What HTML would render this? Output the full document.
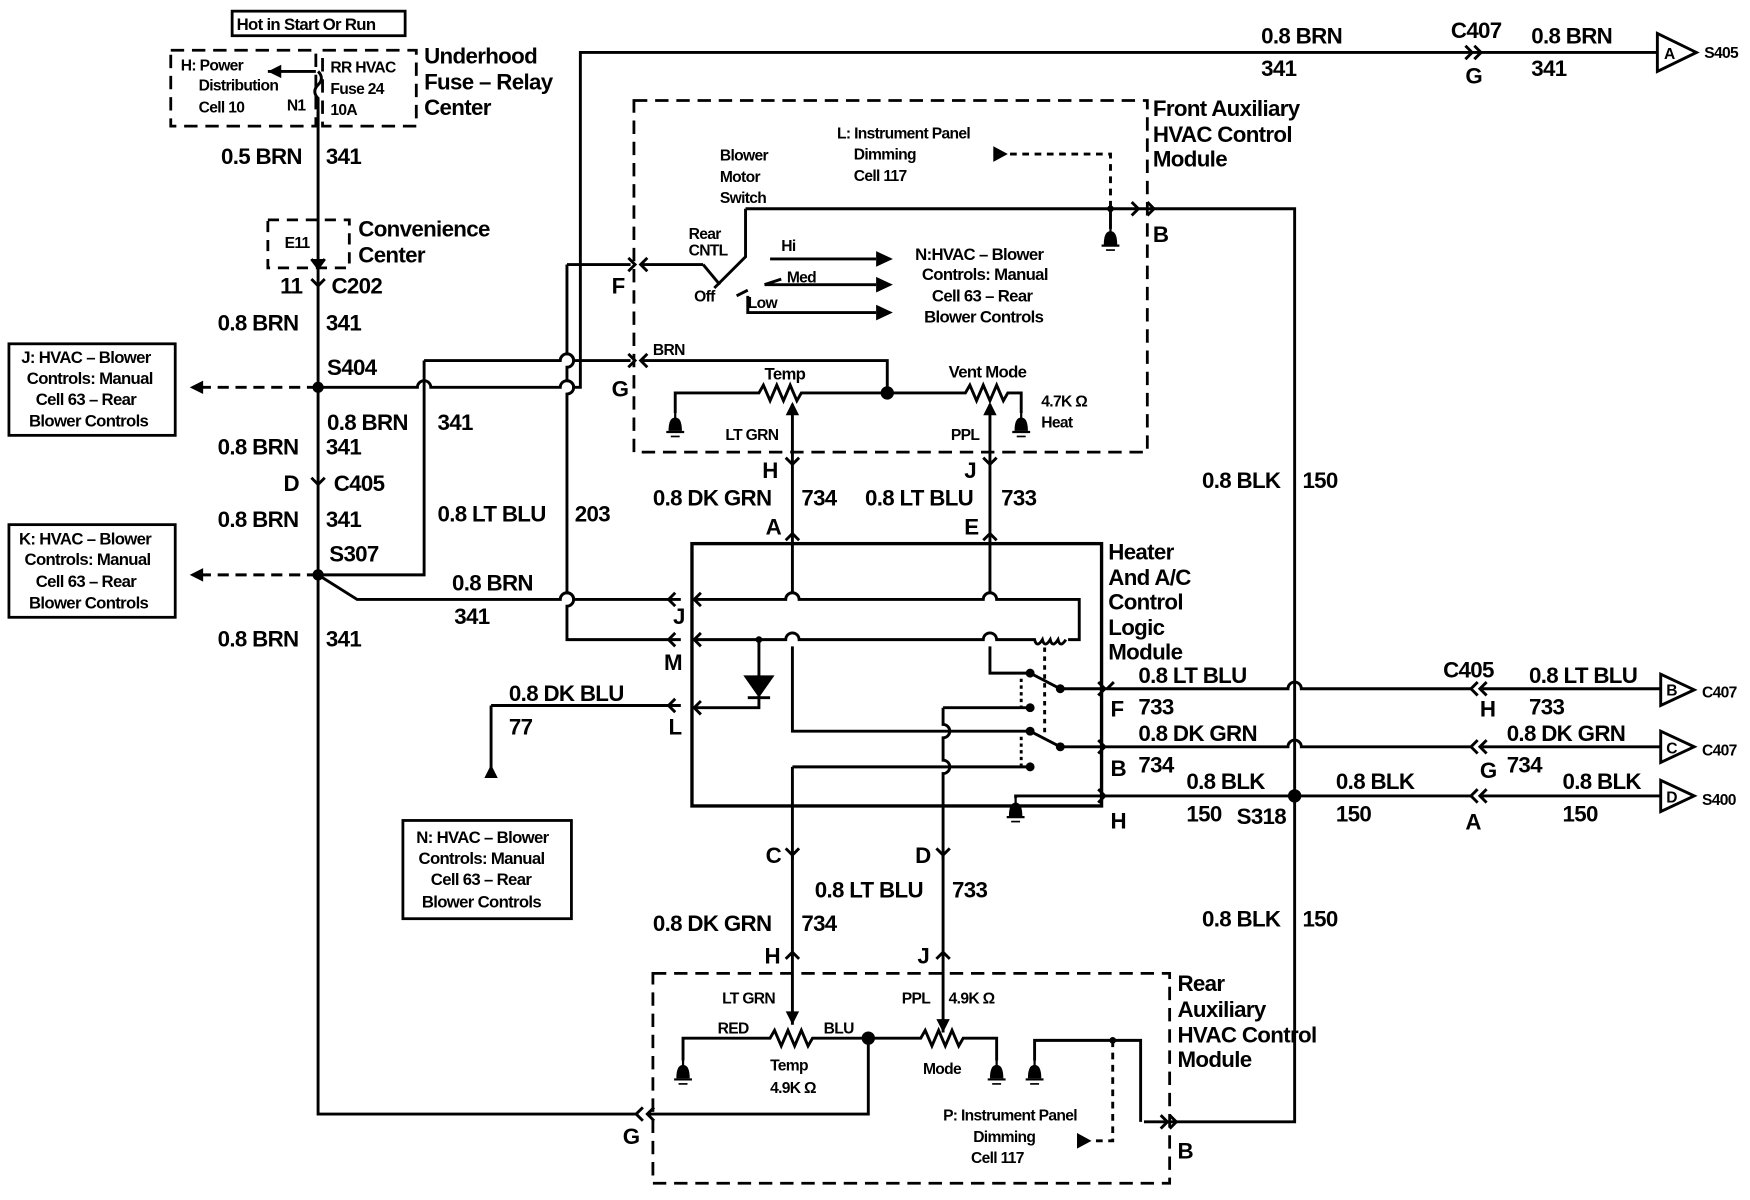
<!DOCTYPE html>
<html><head><meta charset="utf-8"><style>
html,body{margin:0;padding:0;background:#fff;}
svg{display:block}
text{font-family:"Liberation Sans",Arial,sans-serif;font-weight:bold;fill:#000;letter-spacing:-0.6px}
.b{font-size:20px}.m{font-size:15px}.s{font-size:14px}
</style></head><body>
<svg width="1750" height="1200" viewBox="0 0 1568 1075" preserveAspectRatio="none" xmlns="http://www.w3.org/2000/svg">
<defs>
<g id="gnd"><line x1="0" y1="-14" x2="0" y2="-6" stroke="#000" stroke-width="2"/><path d="M-6,4 Q-6,-8 0,-8 Q6,-8 6,4 Z" fill="#000"/><line x1="-8" y1="5" x2="8" y2="5" stroke="#000" stroke-width="2"/><line x1="-4" y1="9" x2="4" y2="9" stroke="#000" stroke-width="1.5"/></g>
</defs>
<g fill="none" stroke="#000" stroke-width="2.6">
<rect x="208" y="10" width="155" height="22" stroke-width="2.5"/>
<rect x="153" y="45" width="130" height="68" stroke-dasharray="12,7" stroke-width="2.5"/>
<rect x="289" y="45" width="84" height="68" stroke-dasharray="12,7" stroke-width="2.5"/>
<path d="M283,64 L240,64"/><path d="M285,64 q6,6 0,12 q-6,6 0,12 l0,25"/>
<rect x="240" y="197" width="73" height="43" stroke-dasharray="10,7" stroke-width="2.5"/>
<path d="M285,100 L285,998 L570,998"/>
<path d="M279,232 L285,240 L291,232"/>
<path d="M279,250 L285,256 L291,250"/>
<path d="M279,428 L285,434 L291,428"/>
<path d="M285,347 L180,347" stroke-dasharray="10,6"/>
<path d="M285,515 L180,515" stroke-dasharray="10,6"/>
<rect x="8" y="308" width="149" height="82" stroke-width="2.5"/>
<rect x="8" y="470" width="149" height="83" stroke-width="2.5"/>
<path d="M285,347 L374,347 a6,6 0 0 1 12,0 L502,347 a6,6 0 0 1 12,0 L520,347 L520,47 L1485,47"/>
<path d="M1313,41 L1319,47 L1313,53 M1321,41 L1327,47 L1321,53"/>
<path d="M380,323 L380,515 L285,515"/>
<path d="M380,323 L502,323 a6,6 0 0 1 12,0 L520,323 M520,323 L565,323"/>
<path d="M285,515 L320,537 L502,537 a6,6 0 0 1 12,0 L610,537"/>
<path d="M508,237 L565,237"/>
<path d="M508,237 L508,317 a6,6 0 0 1 0,12 L508,341 a6,6 0 0 1 0,12 L508,531 a6,6 0 0 1 0,12 L508,573 L610,573"/>
<path d="M563,231 L569,237 L563,243 M563,317 L569,323 L563,329"/>
<rect x="568" y="90" width="460" height="315" stroke-dasharray="12,7" stroke-width="2.5"/>
<path d="M575,237 L630,237"/><path d="M580,231 L574,237 L580,243 M580,317 L574,323 L580,329"/>
<path d="M668,187 L668,230 L640,258 M630,237 L645,255"/>
<path d="M668,187 L1020,187 L1160,187 L1160,1005 L1025,1005"/>
<path d="M1014,181 L1020,187 L1014,193 M1028,181 L1034,187 L1028,193"/>
<path d="M995,187 L995,205"/>
<path d="M905,138 L995,138 L995,187" stroke-dasharray="6,5"/>
<path d="M690,232 L785,232 M660,265 L670,260 M685,255 L700,250 M685,255 L785,255 M670,265 L670,280 L785,280"/>
<path d="M575,323 L795,323 L795,352"/>
<path d="M605,370 L605,352 L680,352 l4,-7 l6,14 l6,-14 l6,14 l6,-14 l6,14 l4,-7 L865,352 l4,-7 l6,14 l6,-14 l6,14 l6,-14 l6,14 l4,-7 L915,352 L915,370"/>
<path d="M710,362 L710,487 M887,362 L887,487"/>
<path d="M704,410 L710,416 L716,410 M881,410 L887,416 L893,410"/>
<path d="M704,484 L710,478 L716,484 M881,484 L887,478 L893,484"/>
<rect x="620" y="487" width="367" height="235" stroke-width="3"/>
<path d="M620,537 L704,537 a6,6 0 0 1 12,0 L881,537 a6,6 0 0 1 12,0 L967,537 L967,573 L957,573"/>
<path d="M620,573 L704,573 a6,6 0 0 1 12,0 L881,573 a6,6 0 0 1 12,0 L927,573 q2,8 7,0 q2,8 7,0 q2,8 7,0 q2,8 7,0"/>
<path d="M710,487 L710,531 M710,579 L710,655 L923,655"/>
<path d="M887,487 L887,531 M887,579 L887,603 L923,603 L950,617 L990,617"/>
<path d="M923,655 L950,669 L990,669"/>
<path d="M845,634 L923,634 M710,687 L923,687"/>
<path d="M845,634 L845,649 a6,6 0 0 1 0,12 L845,681 a6,6 0 0 1 0,12 L845,770"/>
<path d="M710,687 L710,770"/>
<path d="M910,715 L910,713 L990,713"/>
<path d="M936,580 L936,660" stroke-dasharray="4,4"/>
<path d="M915,608 L915,634 M915,660 L915,687" stroke-dasharray="3,3"/>
<path d="M680,573 L680,625 M670,625 L690,625"/>
<path d="M620,634 L680,634 L680,625"/>
<path d="M440,632 L610,632 M440,632 L440,692"/>
<path d="M605,531 L599,537 L605,543 M605,567 L599,573 L605,579 M605,626 L599,632 L605,638"/>
<path d="M628,531 L622,537 L628,543 M628,567 L622,573 L628,579 M628,628 L622,634 L628,640"/>
<path d="M990,617 L1154,617 a6,6 0 0 1 12,0 L1318,617 M1328,617 L1488,617"/>
<path d="M990,669 L1154,669 a6,6 0 0 1 12,0 L1318,669 M1328,669 L1488,669"/>
<path d="M990,713 L1318,713 M1328,713 L1488,713"/>
<path d="M984,611 L990,617 L984,623 M998,611 L992,617 M984,663 L990,669 L984,675 M984,707 L990,713 L984,719"/>
<path d="M1324,611 L1318,617 L1324,623 M1332,611 L1326,617 L1332,623 M1324,663 L1318,669 L1324,675 M1332,663 L1326,669 L1332,675 M1324,707 L1318,713 L1324,719 M1332,707 L1326,713 L1332,719"/>
<path d="M1485,30 L1520,47 L1485,64 Z M1488,604 L1518,618 L1488,632 Z M1488,655 L1518,669 L1488,683 Z M1488,699 L1518,713 L1488,727 Z"/>
<rect x="361" y="735" width="151" height="88" stroke-width="2.5"/>
<path d="M704,760 L710,766 L716,760 M839,760 L845,766 L851,760"/>
<path d="M704,859 L710,853 L716,859 M839,859 L845,853 L851,859"/>
<path d="M710,766 L710,918 M845,766 L845,925"/>
<rect x="585" y="872" width="463" height="188" stroke-dasharray="12,7" stroke-width="2.5"/>
<path d="M612,950 L612,930 L690,930 l4,-7 l6,14 l6,-14 l6,14 l6,-14 l6,14 l4,-7 L825,930 l4,-7 l6,14 l6,-14 l6,14 l6,-14 l6,14 l4,-7 L893,930 L893,950"/>
<path d="M927,950 L927,932 L1022,932 L1022,1005"/>
<path d="M997,932 L997,1022 L980,1022" stroke-dasharray="6,5"/>
<path d="M580,998 L778,998 L778,930"/>
<path d="M576,992 L570,998 L576,1004 M586,992 L580,998 L586,1004"/>
<path d="M1040,999 L1046,1005 L1040,1011 M1048,999 L1054,1005 L1048,1011"/>
</g>
<g fill="#000">
<circle cx="285" cy="347" r="5"/><circle cx="285" cy="515" r="5"/><circle cx="1160" cy="713" r="6"/>
<circle cx="795" cy="352" r="6"/><circle cx="778" cy="930" r="6"/><circle cx="995" cy="187" r="3"/><circle cx="997" cy="932" r="3"/>
<circle cx="680" cy="573" r="3"/><circle cx="923" cy="603" r="4"/><circle cx="950" cy="617" r="4"/><circle cx="923" cy="634" r="4"/><circle cx="923" cy="655" r="4"/><circle cx="950" cy="669" r="4"/><circle cx="923" cy="687" r="4"/>
<path d="M170,347 L182,341 L182,353 Z M170,515 L182,509 L182,521 Z"/>
<path d="M240,64 L252,58 L252,70 Z"/>
<path d="M280,232 L290,232 L285,241 Z"/>
<path d="M785,225 L800,232 L785,239 Z M785,248 L800,255 L785,262 Z M785,273 L800,280 L785,287 Z"/>
<path d="M890,131 L903,138 L890,145 Z M965,1015 L978,1022 L965,1029 Z"/>
<path d="M704,372 L710,360 L716,372 Z M881,372 L887,360 L893,372 Z"/>
<path d="M704,906 L710,918 L716,906 Z M839,913 L845,925 L851,913 Z"/>
<path d="M666,605 L694,605 L680,625 Z"/>
<path d="M434,697 L440,685 L446,697 Z"/>
<use href="#gnd" x="995" y="215"/><use href="#gnd" x="605" y="382"/><use href="#gnd" x="915" y="382"/>
<use href="#gnd" x="910" y="727"/><use href="#gnd" x="612" y="962"/><use href="#gnd" x="893" y="962"/><use href="#gnd" x="927" y="962"/>
</g>
<text x="212" y="27" class="m">Hot in Start Or Run</text>
<text x="162" y="63" class="s">H: Power</text><text x="178" y="81" class="s">Distribution</text><text x="178" y="101" class="s">Cell 10</text><text x="257" y="99" class="s">N1</text>
<text x="296" y="65" class="s">RR HVAC</text><text x="296" y="84" class="s">Fuse  24</text><text x="296" y="103" class="s">10A</text>
<text x="380" y="57" class="b">Underhood</text><text x="380" y="80" class="b">Fuse – Relay</text><text x="380" y="103" class="b">Center</text>
<text x="198" y="147" class="b">0.5 BRN</text><text x="292" y="147" class="b">341</text>
<text x="255" y="222" class="s">E11</text>
<text x="321" y="212" class="b">Convenience</text><text x="321" y="235" class="b">Center</text>
<text x="251" y="263" class="b">11</text><text x="297" y="263" class="b">C202</text>
<text x="195" y="296" class="b">0.8 BRN</text><text x="292" y="296" class="b">341</text>
<text x="293" y="336" class="b">S404</text>
<text x="19" y="325" class="m">J: HVAC – Blower</text><text x="24" y="344" class="m">Controls: Manual</text><text x="32" y="363" class="m">Cell 63 – Rear</text><text x="26" y="382" class="m">Blower Controls</text>
<text x="293" y="385" class="b">0.8 BRN</text><text x="392" y="385" class="b">341</text>
<text x="195" y="407" class="b">0.8 BRN</text><text x="292" y="407" class="b">341</text>
<text x="254" y="440" class="b">D</text><text x="299" y="440" class="b">C405</text>
<text x="195" y="472" class="b">0.8 BRN</text><text x="292" y="472" class="b">341</text>
<text x="295" y="503" class="b">S307</text>
<text x="392" y="467" class="b">0.8 LT BLU</text><text x="515" y="467" class="b">203</text>
<text x="17" y="488" class="m">K: HVAC – Blower</text><text x="22" y="506" class="m">Controls: Manual</text><text x="32" y="526" class="m">Cell 63 – Rear</text><text x="26" y="545" class="m">Blower Controls</text>
<text x="405" y="529" class="b">0.8 BRN</text><text x="407" y="559" class="b">341</text>
<text x="195" y="579" class="b">0.8 BRN</text><text x="292" y="579" class="b">341</text>
<text x="1130" y="39" class="b">0.8 BRN</text><text x="1130" y="68" class="b">341</text>
<text x="1300" y="34" class="b">C407</text><text x="1313" y="75" class="b">G</text>
<text x="1372" y="39" class="b">0.8 BRN</text><text x="1372" y="68" class="b">341</text>
<text x="1491" y="53" class="s">A</text><text x="1527" y="52" class="s">S405</text>
<text x="1033" y="104" class="b">Front Auxiliary</text><text x="1033" y="127" class="b">HVAC Control</text><text x="1033" y="149" class="b">Module</text>
<text x="750" y="124" class="s">L: Instrument Panel</text><text x="765" y="143" class="s">Dimming</text><text x="765" y="162" class="s">Cell 117</text>
<text x="645" y="144" class="s">Blower</text><text x="645" y="163" class="s">Motor</text><text x="645" y="182" class="s">Switch</text>
<text x="1033" y="217" class="b">B</text>
<text x="617" y="214" class="s">Rear</text><text x="617" y="229" class="s">CNTL</text>
<text x="700" y="225" class="s">Hi</text><text x="705" y="253" class="s">Med</text><text x="670" y="276" class="s">Low</text><text x="622" y="270" class="s">Off</text>
<text x="820" y="233" class="m">N:HVAC – Blower</text><text x="826" y="251" class="m">Controls: Manual</text><text x="835" y="270" class="m">Cell 63 – Rear</text><text x="828" y="289" class="m">Blower Controls</text>
<text x="548" y="263" class="b">F</text><text x="548" y="355" class="b">G</text>
<text x="585" y="318" class="s">BRN</text>
<text x="685" y="340" class="m">Temp</text><text x="850" y="338" class="m">Vent Mode</text>
<text x="933" y="364" class="s">4.7K Ω</text><text x="933" y="383" class="s">Heat</text>
<text x="650" y="394" class="s">LT GRN</text><text x="852" y="394" class="s">PPL</text>
<text x="683" y="428" class="b">H</text><text x="864" y="428" class="b">J</text>
<text x="585" y="453" class="b">0.8 DK GRN</text><text x="718" y="453" class="b">734</text>
<text x="775" y="453" class="b">0.8 LT BLU</text><text x="897" y="453" class="b">733</text>
<text x="686" y="479" class="b">A</text><text x="864" y="479" class="b">E</text>
<text x="993" y="501" class="b">Heater</text><text x="993" y="524" class="b">And A/C</text><text x="993" y="546" class="b">Control</text><text x="993" y="569" class="b">Logic</text><text x="993" y="591" class="b">Module</text>
<text x="603" y="559" class="b">J</text><text x="595" y="600" class="b">M</text><text x="599" y="658" class="b">L</text>
<text x="456" y="628" class="b">0.8 DK BLU</text><text x="456" y="658" class="b">77</text>
<text x="373" y="755" class="m">N: HVAC – Blower</text><text x="375" y="774" class="m">Controls: Manual</text><text x="386" y="793" class="m">Cell 63 – Rear</text><text x="378" y="813" class="m">Blower Controls</text>
<text x="995" y="642" class="b">F</text><text x="1020" y="612" class="b">0.8 LT BLU</text><text x="1020" y="640" class="b">733</text>
<text x="1293" y="607" class="b">C405</text><text x="1326" y="642" class="b">H</text>
<text x="1370" y="612" class="b">0.8 LT BLU</text><text x="1370" y="640" class="b">733</text>
<text x="995" y="695" class="b">B</text><text x="1020" y="664" class="b">0.8 DK GRN</text><text x="1020" y="692" class="b">734</text>
<text x="1326" y="697" class="b">G</text><text x="1350" y="664" class="b">0.8 DK GRN</text><text x="1350" y="692" class="b">734</text>
<text x="995" y="742" class="b">H</text><text x="1063" y="707" class="b">0.8 BLK</text><text x="1063" y="736" class="b">150</text>
<text x="1108" y="738" class="b">S318</text><text x="1197" y="707" class="b">0.8 BLK</text><text x="1197" y="736" class="b">150</text>
<text x="1313" y="743" class="b">A</text><text x="1400" y="707" class="b">0.8 BLK</text><text x="1400" y="736" class="b">150</text>
<text x="1493" y="623" class="s">B</text><text x="1525" y="625" class="s">C407</text>
<text x="1493" y="675" class="s">C</text><text x="1525" y="677" class="s">C407</text>
<text x="1493" y="719" class="s">D</text><text x="1525" y="721" class="s">S400</text>
<text x="1077" y="437" class="b">0.8 BLK</text><text x="1167" y="437" class="b">150</text>
<text x="1077" y="830" class="b">0.8 BLK</text><text x="1167" y="830" class="b">150</text>
<text x="686" y="773" class="b">C</text><text x="820" y="773" class="b">D</text>
<text x="730" y="804" class="b">0.8 LT BLU</text><text x="853" y="804" class="b">733</text>
<text x="585" y="834" class="b">0.8 DK GRN</text><text x="718" y="834" class="b">734</text>
<text x="685" y="863" class="b">H</text><text x="822" y="863" class="b">J</text>
<text x="1055" y="888" class="b">Rear</text><text x="1055" y="911" class="b">Auxiliary</text><text x="1055" y="934" class="b">HVAC Control</text><text x="1055" y="956" class="b">Module</text>
<text x="647" y="899" class="s">LT GRN</text><text x="808" y="899" class="s">PPL</text><text x="850" y="899" class="s">4.9K Ω</text>
<text x="643" y="926" class="s">RED</text><text x="738" y="926" class="s">BLU</text>
<text x="690" y="959" class="s">Temp</text><text x="690" y="979" class="s">4.9K Ω</text><text x="827" y="962" class="s">Mode</text>
<text x="845" y="1004" class="s">P: Instrument Panel</text><text x="872" y="1023" class="s">Dimming</text><text x="870" y="1042" class="s">Cell 117</text>
<text x="558" y="1025" class="b">G</text><text x="1055" y="1038" class="b">B</text>
</svg>
</body></html>
